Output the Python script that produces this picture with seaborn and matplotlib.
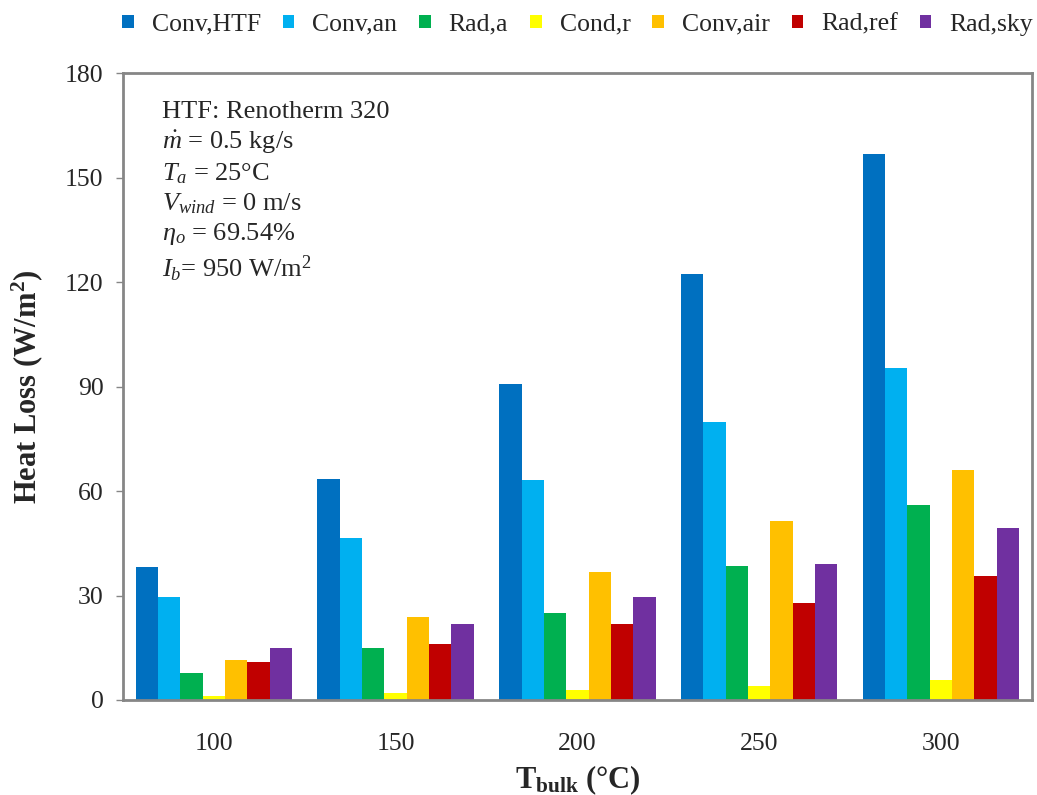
import numpy as np
import pandas as pd
import seaborn as sns
import matplotlib.pyplot as plt
from matplotlib.patches import Patch

# data
temps = ['100', '150', '200', '250', '300']
series = ['Conv,HTF', 'Conv,an', 'Rad,a', 'Cond,r', 'Conv,air', 'Rad,ref', 'Rad,sky']
conv_htf = [38.2, 63.4, 90.7, 122.4, 156.8]
conv_an = [29.5, 46.5, 63.2, 79.8, 95.2]
rad_a = [7.7, 14.9, 25.0, 38.6, 56.0]
cond_r = [1.1, 2.0, 2.9, 4.0, 5.7]
conv_air = [11.5, 23.8, 36.7, 51.5, 66.1]
rad_ref = [10.9, 16.0, 21.8, 27.8, 35.6]
rad_sky = [14.9, 21.7, 29.6, 39.0, 49.4]
colors = ['#0070C0', '#00B0F0', '#00B050', '#FFFF00', '#FFC000', '#C00000', '#7030A0']

values = [conv_htf, conv_an, rad_a, cond_r, conv_air, rad_ref, rad_sky]
rows = []
for name, vals in zip(series, values):
    for t, v in zip(temps, vals):
        rows.append({'T': t, 'loss': v, 'series': name})
df = pd.DataFrame(rows)

sns.set_style('white')
plt.rcParams['font.family'] = ['Liberation Serif', 'DejaVu Serif']
plt.rcParams['mathtext.fontset'] = 'custom'
plt.rcParams['mathtext.rm'] = 'Liberation Serif'
plt.rcParams['mathtext.it'] = 'Liberation Serif:italic'
plt.rcParams['mathtext.bf'] = 'Liberation Serif:bold'

fig = plt.figure(figsize=(10.37, 7.95), dpi=100)
ax = fig.add_axes([0.1186, 0.1195, 0.8764, 0.7885])

sns.barplot(data=df, x='T', y='loss', hue='series', hue_order=series, order=temps,
            palette=colors, width=0.86, gap=0, saturation=1, ax=ax, legend=False,
            linewidth=0)

ax.set_ylim(0, 180)
ax.set_yticks(np.arange(0, 181, 30))
ax.set_xlim(-0.5, 4.5)
for s in ax.spines.values():
    s.set_color('#868686')
    s.set_linewidth(2)
    s.set_visible(True)
ax.tick_params(axis='y', which='both', left=True, length=5, width=1, color='#868686',
               labelsize=18.5, pad=9)
ax.tick_params(axis='x', bottom=False, labelsize=18.5, pad=20)

ax.set_ylabel(r'Heat Loss (W/m$\mathbf{^2}$)', fontsize=22, fontweight='bold', labelpad=14)
ax.set_xlabel(r'T$_{\mathbf{bulk}}$ (°C)', fontsize=22, fontweight='bold', labelpad=6)

info = ('HTF: Renotherm 320\n'
        r'$\dot{m}$ = 0.5 kg/s' '\n'
        r'$T_a$ = 25°C' '\n'
        r'$V_{wind}$ = 0 m/s' '\n'
        r'$\eta_o$ = 69.54%' '\n'
        r'$I_b$= 950 W/m$^2$')
ax.text(0.043, 0.955, info, transform=ax.transAxes, fontsize=19, va='top', ha='left',
        linespacing=1.28)

handles = [Patch(facecolor=c, edgecolor='none') for c in colors]
fig.legend(handles, series, loc='upper center', bbox_to_anchor=(0.557, 1.012), ncol=7,
           frameon=False, fontsize=18.5, handlelength=0.45, handleheight=0.45,
           handletextpad=0.7, columnspacing=0.85)

fig.savefig('out.png', dpi=100)
